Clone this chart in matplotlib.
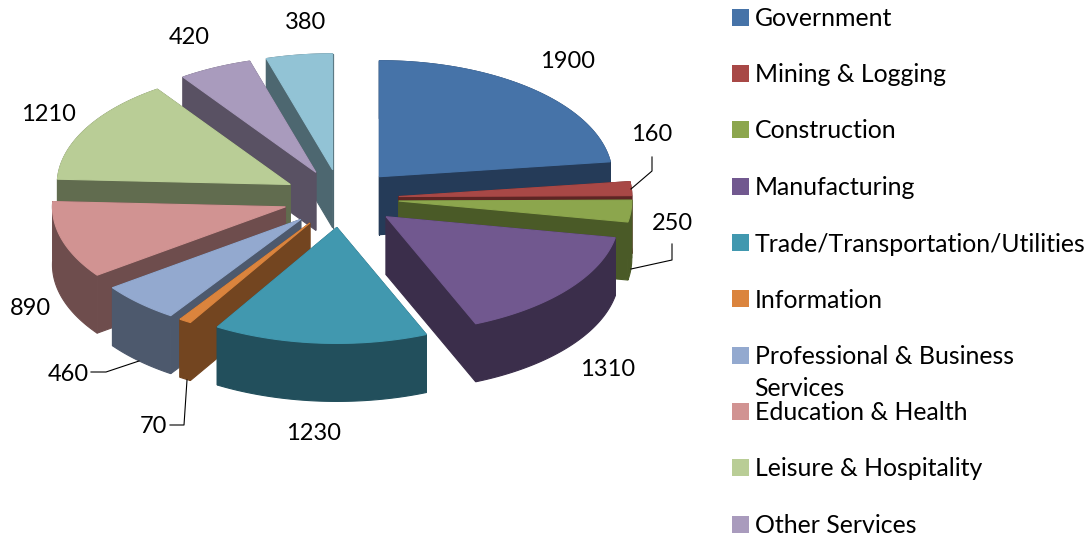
import numpy as np
import matplotlib
matplotlib.use("Agg")
import matplotlib.pyplot as plt
from matplotlib.patches import Polygon, Rectangle

plt.rcParams['font.family'] = ['Lato', 'DejaVu Sans']

# The reference legend is cut off after "Other Services": the eleventh slice has no visible name.
categories = ["Government", "Mining & Logging", "Construction", "Manufacturing",
              "Trade/Transportation/Utilities", "Information",
              "Professional & Business\nServices", "Education & Health",
              "Leisure & Hospitality", "Other Services"]
values = [1900, 160, 250, 1310, 1230, 70, 460, 890, 1210, 420, 380]
top_colors = ["#4673a8", "#a84846", "#8ca64d", "#71588f", "#4198af", "#db843d",
              "#93a9cf", "#d19392", "#b9cd96", "#a99bbd", "#92c3d5"]
wall_colors = ["#253b58", "#5e2524", "#4a5a27", "#3b2e4b", "#224f5c", "#734520",
               "#4d596d", "#6e4d4d", "#616c4f", "#595163", "#4d6770"]

label_xy = [(568, 61.5), (652, 134.5), (672, 223.5), (608, 369.5), (314, 433.5), (153, 426.5),
            (68, 374.5), (30, 308.5), (48, 114.5), (189, 37.5), (306, 22.5)]
leaders = {1: [(652, 157), (652, 171), (631, 189)],
           2: [(672, 244), (672, 260), (631, 269)],
           5: [(170, 425), (184, 425), (187, 380)],
           6: [(91, 372), (106, 372), (139, 361)]}

CX, CY, RX, RY, DEPTH = 341, 198.5, 233, 116, 58
EX, EY = 58, 29

fig = plt.figure(figsize=(10.92, 5.38), dpi=100)
ax = fig.add_axes([0, 0, 1, 1])
ax.set_xlim(0, 1092)
ax.set_ylim(538, 0)
ax.axis("off")

vals = np.array(values, dtype=float)
edges = np.concatenate([[0], np.cumsum(vals)]) / vals.sum() * 2 * np.pi
mids = (edges[:-1] + edges[1:]) / 2


def face(points, color, z):
    ax.add_patch(Polygon(points, closed=True, facecolor=color, edgecolor=color,
                         linewidth=0.8, zorder=z))


for rank, i in enumerate(np.argsort(-np.cos(mids))):
    a0, a1, m = edges[i], edges[i + 1], mids[i]
    ax0 = CX + EX * np.sin(m)
    ay0 = CY - EY * np.cos(m)
    t = np.linspace(a0, a1, 80)
    arc = np.column_stack([ax0 + RX * np.sin(t), ay0 - RY * np.cos(t)])
    apex = np.array([[ax0, ay0]])
    down = np.array([0, DEPTH])
    z = 2 + rank * 0.1
    for end in (arc[0], arc[-1]):
        face(np.array([apex[0], end, end + down, apex[0] + down]), wall_colors[i], z)
    face(np.vstack([arc, (arc + down)[::-1]]), wall_colors[i], z + 0.01)
    face(np.vstack([apex, arc]), top_colors[i], z + 0.02)

for i, v in enumerate(values):
    x, y = label_xy[i]
    ax.text(x, y, str(v), fontsize=17, color="black", ha="center", va="center", zorder=10)

for pts in leaders.values():
    p = np.array(pts)
    ax.plot(p[:, 0], p[:, 1], color="black", lw=0.8, zorder=9)

leg_y = [17, 73.5, 129.5, 186, 242.5, 298.5, 355, 411.5, 467.5, 524]
for i, y in enumerate(leg_y):
    ax.add_patch(Rectangle((732, y - 8.5), 17, 17, facecolor=top_colors[i],
                           edgecolor="none", zorder=5))
    lines = categories[i].split("\n")
    ax.text(755, y + 1.5, lines[0], fontsize=17.9, color="black", ha="left", va="center", zorder=10)
    if len(lines) > 1:
        ax.text(754, y + 33, lines[1], fontsize=17.9, color="black", ha="left", va="center", zorder=10)

fig.savefig("out.png", dpi=100, facecolor="white")
